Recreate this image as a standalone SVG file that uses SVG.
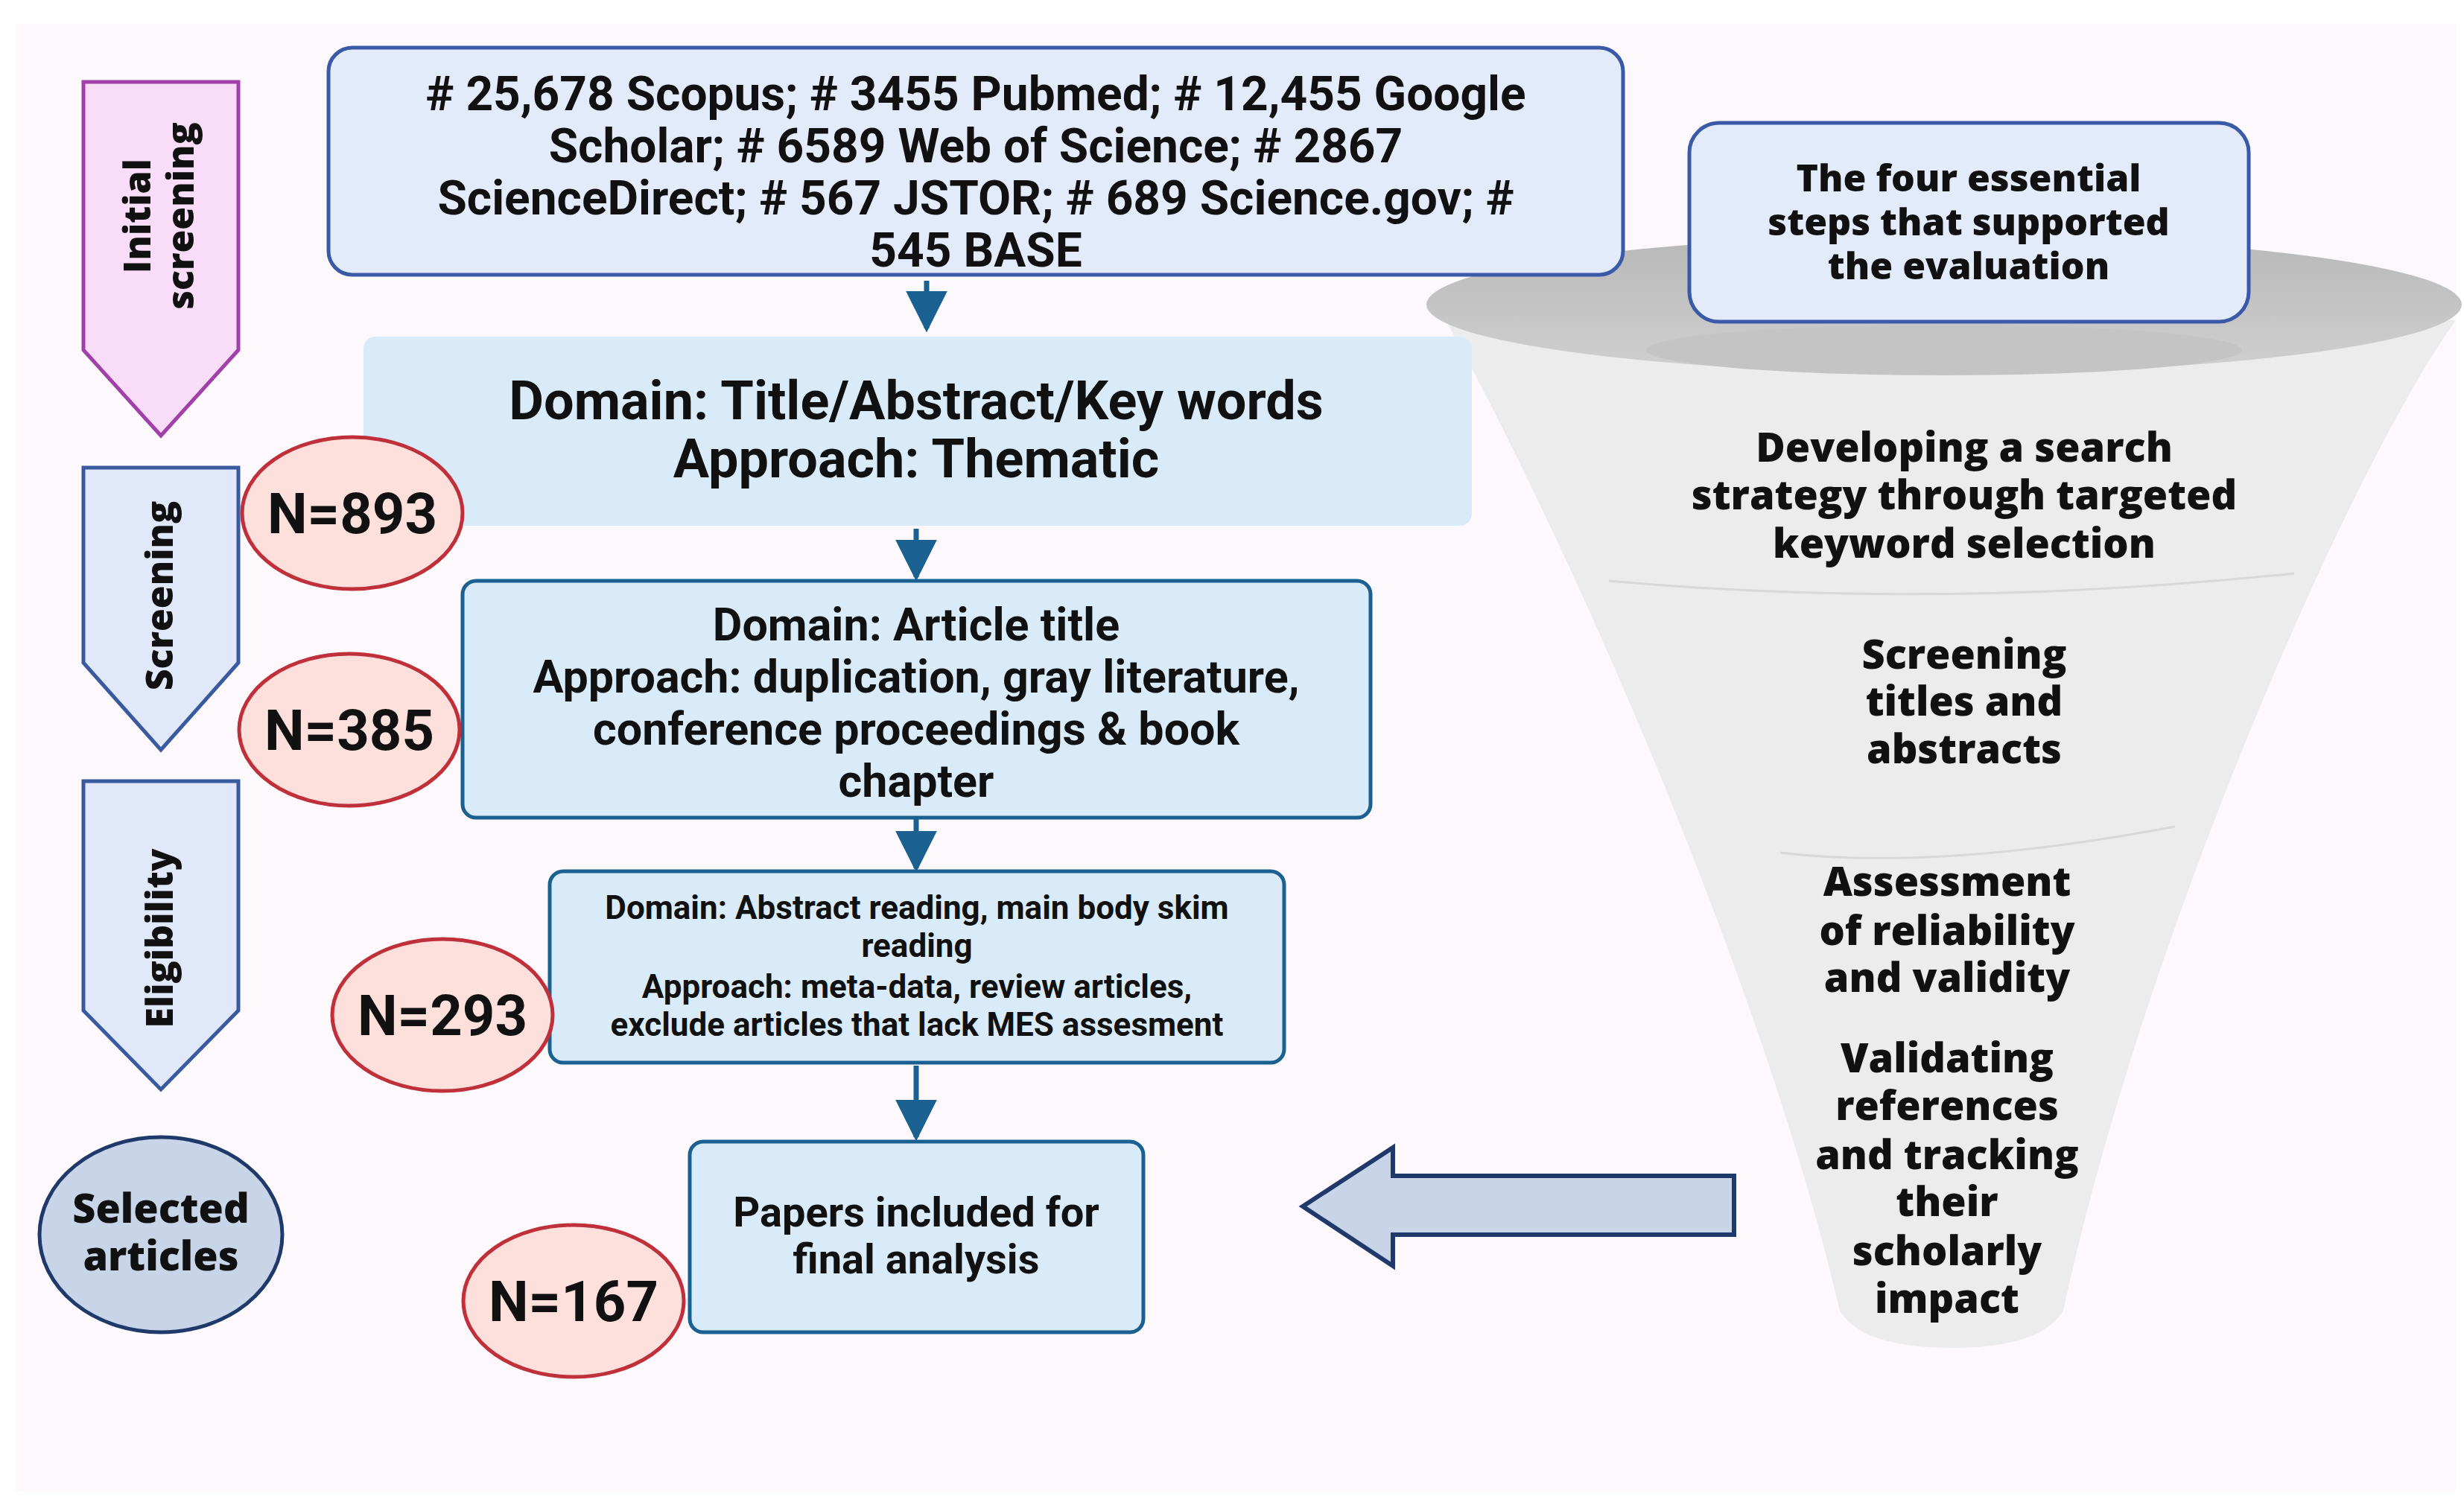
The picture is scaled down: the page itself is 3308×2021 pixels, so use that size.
<svg xmlns="http://www.w3.org/2000/svg" width="3308" height="2021" viewBox="0 0 3308 2021">
<defs>
<style>
.c{font-family:Roboto,"Liberation Sans",sans-serif;font-weight:700;fill:#111;text-anchor:middle}
.f{font-family:"Open Sans","DejaVu Sans",sans-serif;font-weight:800;fill:#111;text-anchor:middle}
.n{font-family:Roboto,"Liberation Sans",sans-serif;font-weight:700;fill:#111;text-anchor:middle;font-size:76px}
.bad{fill:#fde0dc;stroke:#c0303a;stroke-width:5}
.ln{stroke:#1a6090;stroke-width:7;fill:none}
</style>
<marker id="ah" viewBox="0 0 10 10" refX="9" refY="5" markerWidth="8" markerHeight="8" orient="auto" markerUnits="strokeWidth"><path d="M0,0L10,5L0,10z" fill="#1a6090"/></marker>
<linearGradient id="rim" x1="0" y1="0" x2="0" y2="1"><stop offset="0" stop-color="#b8b8b8"/><stop offset="1" stop-color="#d0d0d0"/></linearGradient>
</defs>
<rect width="3308" height="2021" fill="#fff"/>
<rect x="21" y="32" width="3276" height="1971" fill="#fdf8fc"/>

<g id="funnel">
<path d="M1935,420 C2050,620 2350,1250 2470,1760 Q2500,1810 2620,1810 Q2740,1810 2770,1760 C2880,1250 3160,620 3297,430 Z" fill="#ececec"/>
<path d="M2160,780 Q2600,820 3080,770" stroke="#d8d8d8" stroke-width="3" fill="none"/>
<path d="M2390,1145 Q2600,1170 2920,1110" stroke="#d8d8d8" stroke-width="3" fill="none"/>
<ellipse cx="2610" cy="409" rx="695" ry="92" fill="url(#rim)"/>
<ellipse cx="2610" cy="470" rx="400" ry="34" fill="#c4c4c4"/>
</g>

<g id="stage-initial"><path d="M112,110H320V470L216,585L112,470Z" fill="#f9dcf7" stroke="#a040a8" stroke-width="5"/>
<text class="f" font-size="50" transform="translate(216,290) rotate(-90)"><tspan x="0" y="-14">Initial</tspan><tspan x="0" y="44">screening</tspan></text></g>
<g id="stage-screening"><path d="M112,628H320V890L216,1007L112,890Z" fill="#e0e8fa" stroke="#3a5aa0" stroke-width="5"/>
<text class="f" font-size="50" transform="translate(232,800) rotate(-90)" x="0" y="0">Screening</text></g>
<g id="stage-eligibility"><path d="M112,1049H320V1357L216,1463L112,1357Z" fill="#e0e8fa" stroke="#3a5aa0" stroke-width="5"/>
<text class="f" font-size="50" transform="translate(232,1260) rotate(-90)" x="0" y="0">Eligibility</text></g>
<g id="stage-selected"><ellipse cx="216" cy="1658" rx="163" ry="131" fill="#c8d4e8" stroke="#1f3a6a" stroke-width="5"/>
<text class="f" font-size="54"><tspan x="216" y="1642">Selected</tspan><tspan x="216" y="1706">articles</tspan></text></g>

<g id="connectors">
<path class="ln" marker-end="url(#ah)" d="M1244,377V441"/>
<path class="ln" marker-end="url(#ah)" d="M1230,710V775"/>
<path class="ln" marker-end="url(#ah)" d="M1230,1100V1166"/>
<path class="ln" marker-end="url(#ah)" d="M1230,1431V1527"/>
<path d="M2328,1579H1870V1541L1749,1620L1870,1700V1658H2328Z" fill="#c8d4e8" stroke="#1f3a6a" stroke-width="6"/>
</g>

<g id="sources"><rect x="441" y="64" width="1738" height="305" rx="32" fill="#e3ebfb" stroke="#3a5aa8" stroke-width="5"/>
<text class="c" font-size="64"><tspan x="1310" y="148">
# 25,678 Scopus; # 3455 Pubmed; # 12,455 Google</tspan><tspan x="1310" y="218">Scholar; # 6589 Web of Science; # 2867</tspan><tspan x="1310" y="288">ScienceDirect; # 567 JSTOR; # 689 Science.gov; #</tspan><tspan x="1310" y="358">545 BASE</tspan></text></g>

<g id="box-title-abstract"><rect x="488" y="452" width="1488" height="254" rx="16" fill="#d9ebf9"/>
<text class="c" font-size="72"><tspan x="1230" y="563">Domain: Title/Abstract/Key words</tspan><tspan x="1230" y="641">Approach: Thematic</tspan></text></g>
<g id="n893"><ellipse class="bad" cx="473" cy="689" rx="148" ry="102"/><text class="n" x="473" y="716">N=893</text></g>

<g id="box-article-title"><rect x="621" y="780" width="1219" height="318" rx="18" fill="#d9ebf9" stroke="#1a6090" stroke-width="5"/>
<text class="c" font-size="61"><tspan x="1230" y="860">Domain: Article title</tspan><tspan x="1230" y="930">Approach: duplication, gray literature,</tspan><tspan x="1230" y="1000">conference proceedings &amp; book</tspan><tspan x="1230" y="1070">chapter</tspan></text></g>
<g id="n385"><ellipse class="bad" cx="469" cy="980" rx="148" ry="102"/><text class="n" x="469" y="1007">N=385</text></g>

<g id="box-abstract-reading"><rect x="738" y="1170" width="986" height="257" rx="18" fill="#d9ebf9" stroke="#1a6090" stroke-width="5"/>
<text class="c" font-size="44"><tspan x="1231" y="1234">Domain: Abstract reading, main body skim</tspan><tspan x="1231" y="1285">reading</tspan><tspan x="1231" y="1340">Approach: meta-data, review articles,</tspan><tspan x="1231" y="1391">exclude articles that lack MES assesment</tspan></text></g>
<g id="n293"><ellipse class="bad" cx="594" cy="1363" rx="148" ry="102"/><text class="n" x="594" y="1390">N=293</text></g>

<g id="box-final"><rect x="926" y="1533" width="609" height="256" rx="18" fill="#d9ebf9" stroke="#1a6090" stroke-width="5"/>
<text class="c" font-size="56"><tspan x="1230" y="1647">Papers included for</tspan><tspan x="1230" y="1710">final analysis</tspan></text></g>
<g id="n167"><ellipse class="bad" cx="770" cy="1747" rx="148" ry="102"/><text class="n" x="770" y="1774">N=167</text></g>

<g id="funnel-header"><rect x="2268" y="165" width="751" height="267" rx="40" fill="#e3ebfb" stroke="#3a5aa8" stroke-width="5"/>
<text class="f" font-size="50"><tspan x="2643" y="257">The four essential</tspan><tspan x="2643" y="316">steps that supported</tspan><tspan x="2643" y="375">the evaluation</tspan></text></g>
<g id="funnel-texts">
<text class="f" font-size="54"><tspan x="2637" y="620">Developing a search</tspan><tspan x="2637" y="684">strategy through targeted</tspan><tspan x="2637" y="749">keyword selection</tspan></text>
<text class="f" font-size="54"><tspan x="2637" y="898">Screening</tspan><tspan x="2637" y="961">titles and</tspan><tspan x="2637" y="1025">abstracts</tspan></text>
<text class="f" font-size="54"><tspan x="2614" y="1203">Assessment</tspan><tspan x="2614" y="1269">of reliability</tspan><tspan x="2614" y="1332">and validity</tspan></text>
<text class="f" font-size="54"><tspan x="2614" y="1440">Validating</tspan><tspan x="2614" y="1504">references</tspan><tspan x="2614" y="1570">and tracking</tspan><tspan x="2614" y="1633">their</tspan><tspan x="2614" y="1699">scholarly</tspan><tspan x="2614" y="1763">impact</tspan></text>
</g>
</svg>
